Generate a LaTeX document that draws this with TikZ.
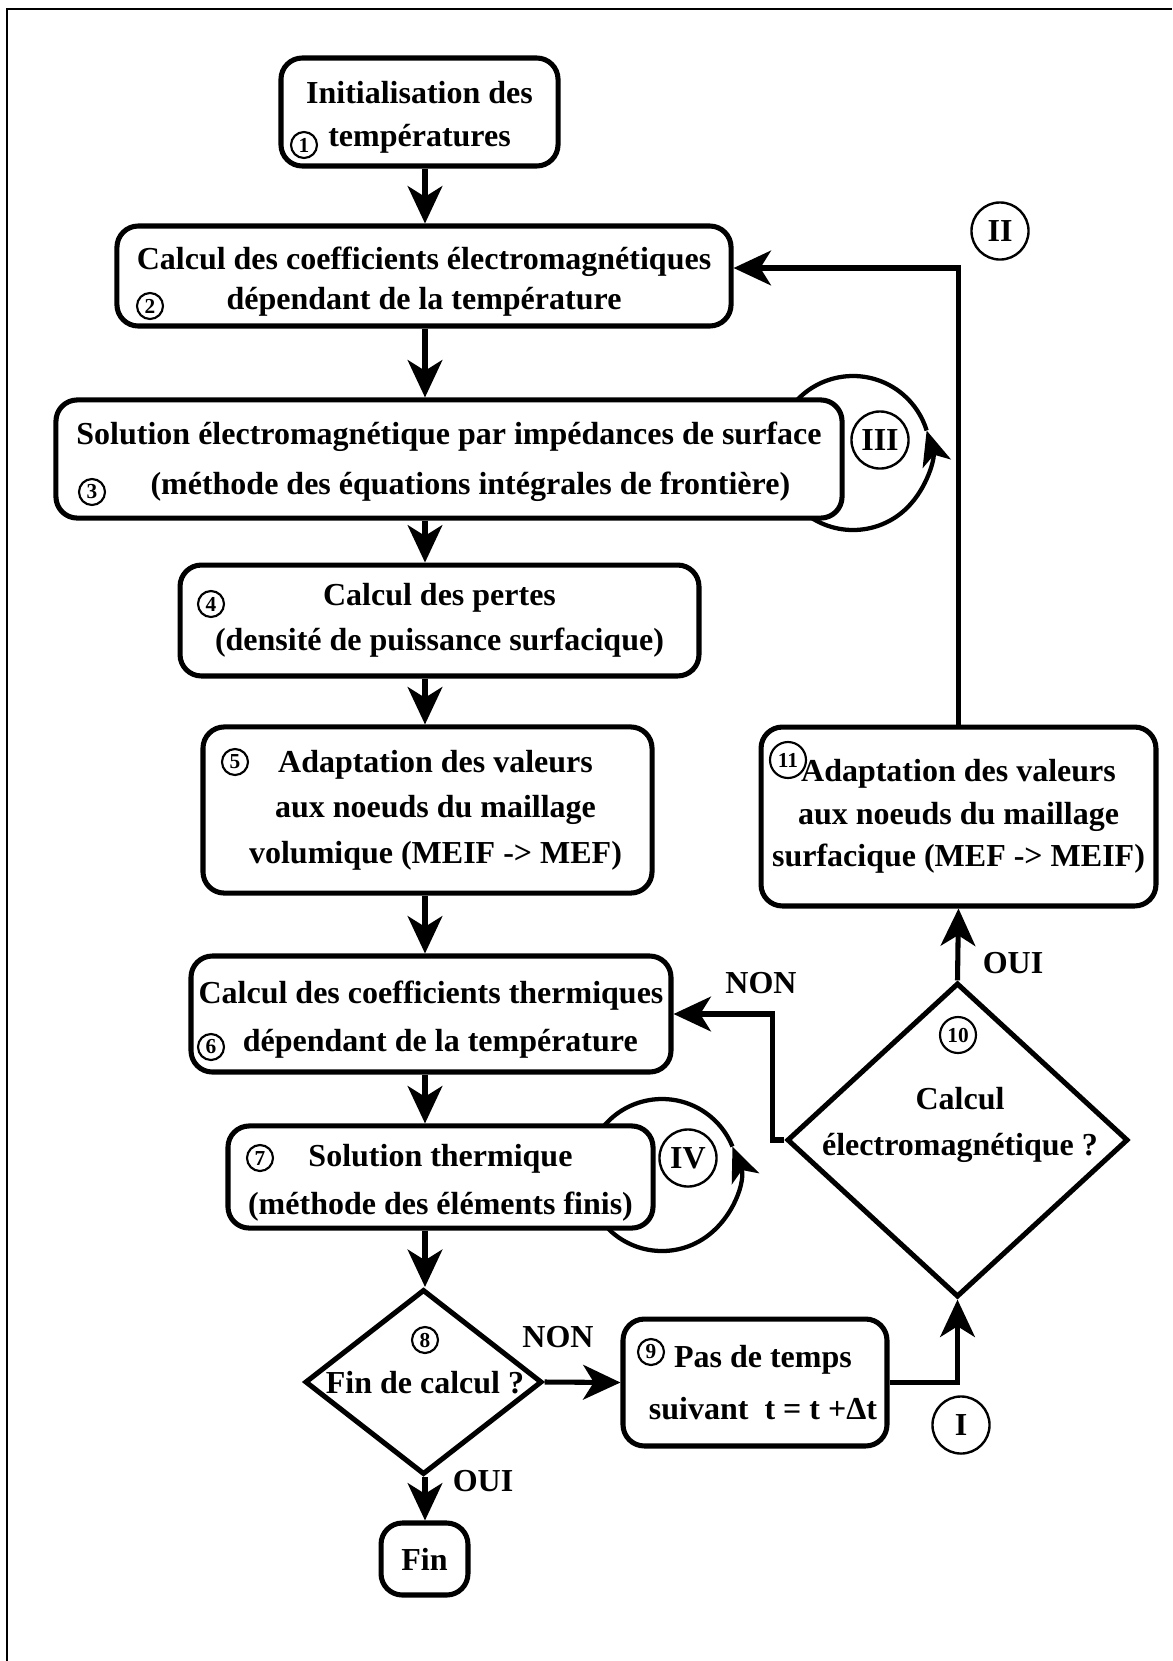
\documentclass[tikz,border=0pt]{standalone}
\usepackage{fontspec}
\setmainfont{Liberation Serif}
\usetikzlibrary{shapes.geometric,arrows.meta,backgrounds}
\newcommand{\topgap}[1]{\rule{0pt}{#1}}

\begin{document}
\begin{tikzpicture}[x=0.375pt,y=-0.375pt,
    every node/.style={font=\bfseries\fontsize{12}{17}\selectfont},
    box/.style={draw,line width=1.9pt,rounded corners=8pt,fill=white,align=center,inner sep=2pt},
    dec/.style={draw,diamond,line width=1.9pt,fill=white,inner sep=0pt},
    num/.style={draw,circle,line width=0.8pt,inner sep=0pt,minimum size=9.75pt,font=\bfseries\fontsize{8}{8}\selectfont},
    bignum/.style={num,minimum size=13.5pt},
    roman/.style={draw,circle,line width=0.9pt,inner sep=0pt,minimum size=21.4pt},
    arr/.style={line width=1.9pt,-{Stealth[length=14pt,width=13pt,inset=4pt]}},
    turn/.style={line width=1.6pt}]
  \useasboundingbox (0,0) rectangle (1172,1661);
  \draw[line width=0.8pt] (7,1661) -- (7,9) -- (1172,9);

  % main column
  \node[box,minimum width=103.9pt,minimum height=40.5pt] (init) at (419.5,112)
    {\topgap{12.3pt}Initialisation des\\[-1pt]températures};
  \node[box,minimum width=230.3pt,minimum height=37.5pt] (coefem) at (424,276)
    {\topgap{12.5pt}Calcul des coefficients électromagnétiques\\[-2pt]dépendant de la température};
  \node[box,minimum width=294.8pt,minimum height=44.3pt] (solem) at (449,459)
    {\topgap{10.5pt}Solution électromagnétique par impédances de surface\\[1.5pt]\hspace*{16pt}(méthode des équations intégrales de frontière)};
  \node[box,minimum width=194.6pt,minimum height=41.6pt] (pertes) at (439.5,620.5)
    {Calcul des pertes\\(densité de puissance surfacique)};
  \node[box,minimum width=168.4pt,minimum height=62.3pt] (adapvol) at (427.5,810)
    {\hspace*{6pt}Adaptation des valeurs\\\hspace*{6pt}aux noeuds du maillage\\\hspace*{6pt}volumique (MEIF -> MEF)};
  \node[box,minimum width=180pt,minimum height=43.5pt] (coefth) at (431,1014)
    {\topgap{12.3pt}Calcul des coefficients thermiques\\[1pt]\hspace*{7pt}dépendant de la température};
  \node[box,minimum width=159.4pt,minimum height=38.3pt] (solth) at (440.5,1177)
    {\topgap{12.3pt}Solution thermique\\[1pt](méthode des éléments finis)};
  \node[dec,minimum width=88.9pt,minimum height=69.4pt] (fincalc) at (423.5,1382) {};
  \node (q8) at (425,1383) {Fin de calcul ?};
  \node[box,minimum width=32.6pt,minimum height=27pt] (fin) at (424.5,1559) {Fin};

  % right column
  \node[box,minimum width=99pt,minimum height=47.6pt] (pas) at (755,1382.5)
    {\hspace*{6pt}Pas de temps\\[2.5pt]\hspace*{6pt}suivant\ \ t = t +Δt};
  \node[dec,minimum width=127.9pt,minimum height=117.8pt] (calcem) at (957.5,1140) {};
  \node[align=center] (q10) at (960,1125) {Calcul\\électromagnétique ?};
  \node[box,minimum width=148.1pt,minimum height=67.1pt] (adapsurf) at (958.5,816.5)
    {Adaptation des valeurs\\[-1pt]aux noeuds du maillage\\[-1pt]surfacique (MEF -> MEIF)};

  % step numbers
  \foreach \i/\x/\y in {1/304/145, 2/150/306, 3/92/492, 4/211/604, 5/235/762,
                        6/211/1047, 7/260/1158, 8/425/1340, 9/651/1352}
    \node[num] (n\i) at (\x,\y) {\i};
  \node[bignum] (n10) at (958,1035) {10};
  \node[bignum] (n11) at (788,760) {11};

  % loop labels
  \foreach \r/\x/\y in {I/961/1425, II/1000/231, III/880/440, IV/688/1158}
    \node[roman] (r\r) at (\x,\y) {\r};

  \node (non1) at (761,983) {NON};
  \node (oui1) at (1013,963) {OUI};
  \node (non2) at (558,1337) {NON};
  \node (oui2) at (483,1481) {OUI};

  % connectors
  \coordinate (col) at (425,0);
  \foreach \a/\b in {init/coefem, coefem/solem, solem/pertes, pertes/adapvol,
                     adapvol/coefth, coefth/solth, solth/fincalc, fincalc/fin}
    \draw[arr] (\a.south -| col) -- (\b.north -| col);
  \draw[arr] (fincalc.east) -- (pas.west);
  \draw[arr] (pas.east) -| (calcem.south);
  \draw[arr] (calcem.north) -- (adapsurf.south);
  \draw[arr] (adapsurf.north) |- ([yshift=3pt]coefem.east);
  \draw[arr] (calcem.west) -- ++(-12,0) |- (coefth.east);

  % inner loops
  \begin{scope}[on background layer]
    \draw[turn,-{Stealth[length=13pt,width=11pt,inset=3.5pt]}] (853,453) ++(135:77)
      arc[start angle=135,end angle=-17,radius=77];
    \draw[turn] (853,453) ++(-140:77) arc[start angle=-140,end angle=-17,radius=77];
    \draw[turn,-{Stealth[length=13pt,width=11pt,inset=3.5pt]}] (662,1175) ++(145:76)
      arc[start angle=145,end angle=-22,radius=76];
    \draw[turn] (662,1175) ++(-145:76) arc[start angle=-145,end angle=-22,radius=76];
  \end{scope}
\end{tikzpicture}
\end{document}
